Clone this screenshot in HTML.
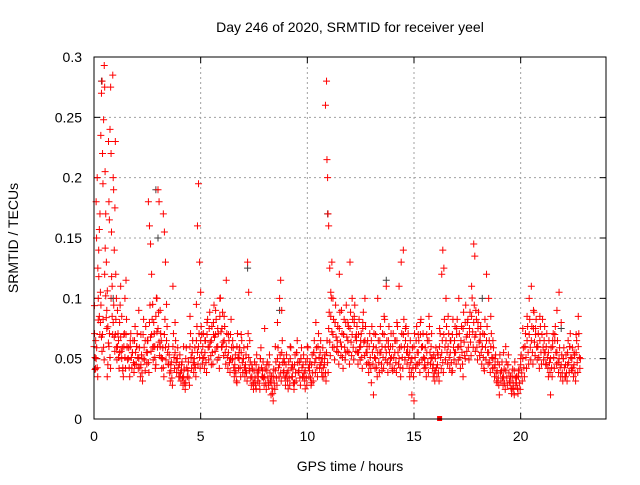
<!DOCTYPE html>
<html><head><meta charset="utf-8"><style>
body{margin:0;background:#fff}
svg text{font-family:"Liberation Sans",sans-serif;font-size:14px;fill:#000}
</style></head><body>
<svg id="chart" width="640" height="480" xmlns="http://www.w3.org/2000/svg">
<rect width="640" height="480" fill="#fff"/>
<g id="grid"></g>
<g id="ticks"></g>
<g id="bandpts"></g>
<g id="graypts"></g>
<g id="redpts"></g>
<rect x="94" y="57" width="512" height="362" fill="none" stroke="#000" stroke-width="1"/>
<text x="350" y="32" text-anchor="middle">Day 246 of 2020, SRMTID for receiver yeel</text>
<text x="350" y="471" text-anchor="middle">GPS time / hours</text>
<text x="18" y="238" text-anchor="middle" transform="rotate(-90 18 238)">SRMTID / TECUs</text>
</svg>
<script>
const xTicks=[0,5,10,15,20];
const yTicks=[0,0.05,0.1,0.15,0.2,0.25,0.3];
const yTickLabels=["0","0.05","0.1","0.15","0.2","0.25","0.3"];
const redTimes=[0.02,0.05,0.08,0.1,0.12,0.15,0.18,0.2,0.22,0.25,0.28,0.3,0.32,0.35,0.38,0.4,0.42,0.45,0.48,0.5,0.52,0.55,0.58,0.6,0.62,0.65,0.68,0.7,0.72,0.75,0.78,0.8,0.82,0.85,0.88,0.9,0.92,0.95,0.98,1.0,1.02,1.05,1.1,1.15,1.2,1.25,1.3,1.35,1.4,1.45,1.5,1.55,1.6,1.7,1.8,1.9,2.0,2.1,2.2,2.3,2.4,2.5,2.55,2.6,2.65,2.7,2.75,2.8,2.85,2.9,2.95,3.0,3.05,3.1,3.15,3.2,3.25,3.3,3.35,3.4,3.5,3.6,3.7,3.8,3.9,4.0,4.1,4.2,4.3,4.4,4.5,4.6,4.7,4.8,4.85,4.9,4.95,5.0,5.05,5.1,5.2,5.3,5.4,5.5,5.6,5.7,5.8,5.9,6.0,6.1,6.2,6.3,6.4,6.5,6.6,6.7,6.8,6.9,7.0,7.1,7.2,7.25,7.3,7.4,7.5,7.6,7.7,7.8,7.9,8.0,8.1,8.2,8.3,8.4,8.5,8.6,8.7,8.75,8.8,8.9,9.0,9.1,9.2,9.3,9.4,9.5,9.6,9.7,9.8,9.9,10.0,10.1,10.2,10.3,10.4,10.5,10.6,10.7,10.8,10.85,10.9,10.92,10.95,10.97,11.0,11.05,11.1,11.15,11.2,11.3,11.4,11.5,11.6,11.7,11.8,11.9,12.0,12.1,12.2,12.3,12.4,12.5,12.6,12.7,12.8,12.9,13.0,13.1,13.2,13.3,13.4,13.5,13.6,13.7,13.8,13.9,14.0,14.1,14.2,14.3,14.4,14.5,14.6,14.7,14.8,14.9,15.0,15.1,15.2,15.3,15.4,15.5,15.6,15.7,15.8,15.9,16.0,16.1,16.2,16.3,16.35,16.4,16.5,16.6,16.7,16.8,16.9,17.0,17.1,17.2,17.3,17.4,17.5,17.6,17.7,17.8,17.85,17.9,18.0,18.1,18.2,18.3,18.4,18.5,18.6,18.7,18.8,18.9,19.0,19.1,19.2,19.3,19.4,19.5,19.6,19.7,19.8,19.9,20.0,20.1,20.2,20.3,20.4,20.5,20.6,20.7,20.8,20.9,21.0,21.1,21.2,21.3,21.4,21.5,21.6,21.7,21.8,21.9,22.0,22.1,22.2,22.3,22.4,22.5,22.6,22.7,22.8];
const redValues=[.094,.041,.065,.18,.15,.2,.125,.082,.14,.157,.17,.105,.235,.27,.28,.22,.195,.248,.293,.275,.205,.17,.13,.075,.035,.045,.23,.18,.165,.24,.275,.22,.155,.11,.285,.2,.19,.14,.175,.23,.12,.1,.09,.065,.055,.11,.085,.04,.07,.1,.115,.06,.05,.065,.055,.045,.06,.09,.07,.05,.04,.065,.18,.16,.145,.12,.095,.08,.06,.045,.1,.19,.18,.09,.065,.05,.17,.155,.13,.095,.06,.045,.11,.08,.05,.035,.045,.06,.03,.04,.085,.055,.045,.095,.16,.195,.13,.105,.07,.05,.065,.08,.06,.045,.07,.09,.075,.1,.06,.085,.115,.07,.05,.065,.04,.03,.055,.07,.05,.04,.13,.105,.065,.045,.03,.025,.04,.05,.035,.075,.045,.03,.02,.015,.06,.08,.1,.115,.09,.05,.035,.025,.06,.045,.03,.055,.04,.05,.035,.025,.06,.045,.03,.055,.08,.06,.045,.035,.05,.26,.28,.215,.2,.17,.16,.125,.105,.13,.1,.08,.06,.12,.09,.07,.055,.08,.13,.1,.085,.07,.055,.065,.08,.1,.06,.045,.03,.02,.07,.1,.055,.04,.085,.11,.06,.05,.04,.065,.08,.11,.13,.14,.075,.055,.035,.02,.015,.045,.07,.08,.06,.045,.07,.085,.05,.035,.04,.055,.075,.12,.14,.125,.1,.085,.065,.04,.055,.075,.1,.06,.035,.05,.08,.07,.11,.145,.135,.09,.08,.07,.06,.04,.12,.1,.085,.065,.05,.03,.02,.04,.055,.06,.045,.03,.025,.02,.035,.04,.05,.075,.06,.085,.1,.11,.09,.075,.06,.085,.07,.055,.045,.035,.02,.065,.07,.09,.105,.08,.05,.035,.045,.06,.04,.055,.07,.085,.05];
const bandStart=0, bandStep=0.1;
const bandValues=[.06,.05,.1,.08,.07,.12,.09,.06,.1,.08,
.07,.06,.08,.05,.06,.07,.05,.06,.055,.065,
.06,.05,.045,.07,.065,.055,.08,.07,.06,.085,
.075,.06,.05,.07,.065,.045,.04,.06,.055,.05,
.045,.04,.035,.05,.04,.06,.055,.05,.065,.06,
.065,.06,.055,.07,.075,.065,.08,.07,.06,.085,
.075,.065,.06,.055,.07,.05,.045,.06,.05,.055,
.05,.045,.06,.04,.035,.04,.045,.035,.05,.04,
.035,.04,.045,.03,.035,.04,.05,.045,.055,.04,
.045,.04,.05,.035,.045,.055,.04,.05,.045,.04,
.05,.04,.045,.055,.05,.06,.055,.05,.045,.055,
.075,.085,.07,.08,.065,.075,.06,.07,.08,.065,
.075,.07,.08,.065,.07,.06,.075,.065,.055,.06,
.065,.06,.05,.055,.065,.06,.07,.055,.065,.06,
.06,.055,.065,.05,.06,.07,.065,.06,.055,.05,
.06,.065,.055,.07,.06,.05,.055,.065,.06,.045,
.05,.045,.06,.055,.07,.065,.06,.055,.07,.065,
.07,.06,.065,.075,.08,.07,.075,.085,.08,.07,
.075,.065,.06,.07,.065,.055,.06,.05,.045,.04,
.045,.04,.035,.04,.045,.03,.035,.04,.03,.035,
.045,.05,.06,.065,.07,.065,.075,.07,.06,.065,
.07,.065,.06,.055,.05,.06,.065,.055,.05,.045,
.05,.045,.055,.06,.05,.045,.055,.06];
const grayTimes=[0.35,0.9,2.9,3.0,7.2,8.7,10.95,13.7,18.2,21.9];
const grayValues=[.28,.1,.19,.15,.125,.09,.17,.115,.1,.075];
const zeroTimes=[16.2];
const zeroValues=[0];

const X0=94,X1=606,Y0=419,Y1=57,XMAX=24,YMAX=0.3;
const xs=t=>X0+(X1-X0)*t/XMAX;
const ys=v=>Y0-(Y0-Y1)*v/YMAX;
const NS="http://www.w3.org/2000/svg";
function mk(tag,parent){const e=document.createElementNS(NS,tag);parent.appendChild(e);return e;}
const grid=document.getElementById('grid'),ticks=document.getElementById('ticks');
xTicks.forEach(t=>{const x=xs(t);
 if(t>0){const l=mk('line',grid);l.setAttribute('x1',x);l.setAttribute('x2',x);l.setAttribute('y1',Y1);l.setAttribute('y2',Y0);l.setAttribute('stroke','#a0a0a0');l.setAttribute('stroke-dasharray','2,3');
 
 }
 [[Y0,Y0-6],[Y1,Y1+6]].forEach(p=>{const k=mk('line',ticks);k.setAttribute('x1',x);k.setAttribute('x2',x);k.setAttribute('y1',p[0]);k.setAttribute('y2',p[1]);k.setAttribute('stroke','#000');});
 const tx=mk('text',ticks);tx.setAttribute('x',x);tx.setAttribute('y',Y0+22);tx.setAttribute('text-anchor','middle');tx.textContent=String(t);
 
 
});
yTicks.forEach((v,i)=>{const y=ys(v);
 if(v>0&&v<YMAX){const l=mk('line',grid);l.setAttribute('x1',X0);l.setAttribute('x2',X1);l.setAttribute('y1',y);l.setAttribute('y2',y);l.setAttribute('stroke','#a0a0a0');l.setAttribute('stroke-dasharray','2,3');
 
 }
 [[X0,X0+6],[X1,X1-6]].forEach(p=>{const k=mk('line',ticks);k.setAttribute('y1',y);k.setAttribute('y2',y);k.setAttribute('x1',p[0]);k.setAttribute('x2',p[1]);k.setAttribute('stroke','#000');});
 const tx=mk('text',ticks);tx.setAttribute('x',X0-12);tx.setAttribute('y',y+5);tx.setAttribute('text-anchor','end');tx.textContent=yTickLabels[i];
 
 
});
function plus(g,t,v,color){const x=xs(t),y=ys(v);const p=mk('path',g);
 p.setAttribute('d',`M${x-3.5},${y}h7M${x},${y-3.5}v7`);p.setAttribute('stroke',color);p.setAttribute('stroke-width','1');
 
 }
const bg=document.getElementById('bandpts');
bandValues.forEach((v,i)=>{const t=bandStart+bandStep*i;
 plus(bg,t,v,'#ff0000');
 plus(bg,t+0.05,v*0.85,'#ff0000');
 plus(bg,t+0.025,v*1.18,'#ff0000');
 plus(bg,t+0.075,v*0.7,'#ff0000');});
const gg=document.getElementById('graypts');
grayTimes.forEach((t,i)=>plus(gg,t,grayValues[i],'#404040'));
const rg=document.getElementById('redpts');
redTimes.forEach((t,i)=>plus(rg,t,redValues[i],'#ff0000'));
zeroTimes.forEach((t,i)=>{const r=mk('rect',rg);r.setAttribute('x',xs(t)-2.5);r.setAttribute('y',ys(zeroValues[i])-3);r.setAttribute('width',5);r.setAttribute('height',5);r.setAttribute('fill','#ff0000');
 
 });
</script>
</body></html>
